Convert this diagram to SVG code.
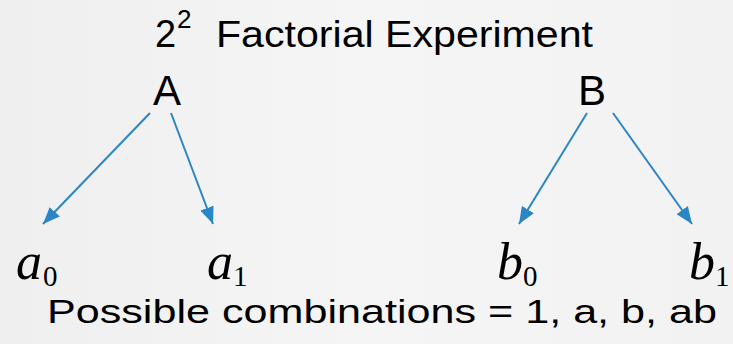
<svg xmlns="http://www.w3.org/2000/svg" width="733" height="344" viewBox="0 0 733 344">
<style>
.sans{font-family:"Liberation Sans","DejaVu Sans",sans-serif;fill:#000}
.math{font-family:"Liberation Serif","DejaVu Serif",serif;fill:#000}
.var{font-style:italic;font-size:52px}
.sub{font-size:29px}
.conn line{stroke:#2a86c4;stroke-width:2;fill:none}
</style>
<defs>
<linearGradient id="bg" x1="0" y1="0" x2="1" y2="0">
<stop offset="0" stop-color="#efefef"/>
<stop offset="0.5" stop-color="#f5f5f5"/>
<stop offset="1" stop-color="#f2f2f2"/>
</linearGradient>
<marker id="arr" markerUnits="userSpaceOnUse" markerWidth="18" markerHeight="14" refX="17" refY="7" orient="auto">
<path d="M0,0 L17,7 L0,14 Z" fill="#2a86c4"/>
</marker>
</defs>
<rect width="733" height="344" fill="url(#bg)"/>
<g id="title">
<text class="sans" x="155" y="47" font-size="38">2</text>
<text class="sans" x="177" y="28" font-size="26">2</text>
<text class="sans" x="216" y="47" font-size="37" textLength="377" lengthAdjust="spacingAndGlyphs">Factorial Experiment</text>
</g>
<g id="nodeA"><text class="sans" x="167" y="105" font-size="42" text-anchor="middle">A</text></g>
<g id="nodeB"><text class="sans" x="592" y="105" font-size="42" text-anchor="middle">B</text></g>
<g id="a0"><text class="math" x="16" y="279"><tspan class="var">a</tspan><tspan class="sub" x="43" y="286">0</tspan></text></g>
<g id="a1"><text class="math" x="207" y="279"><tspan class="var">a</tspan><tspan class="sub" x="233" y="286">1</tspan></text></g>
<g id="b0"><text class="math" x="497" y="279"><tspan class="var">b</tspan><tspan class="sub" x="523" y="286">0</tspan></text></g>
<g id="b1"><text class="math" x="689" y="279"><tspan class="var">b</tspan><tspan class="sub" x="715" y="286">1</tspan></text></g>
<g class="conn" id="connectors">
<line x1="150" y1="113" x2="43" y2="224" marker-end="url(#arr)"/>
<line x1="171" y1="113" x2="213" y2="224" marker-end="url(#arr)"/>
<line x1="587" y1="113" x2="519" y2="224" marker-end="url(#arr)"/>
<line x1="613" y1="113" x2="692" y2="224" marker-end="url(#arr)"/>
</g>
<g id="footer"><text class="sans" x="47" y="323" font-size="33" textLength="670" lengthAdjust="spacingAndGlyphs">Possible combinations = 1, a, b, ab</text></g>
</svg>
